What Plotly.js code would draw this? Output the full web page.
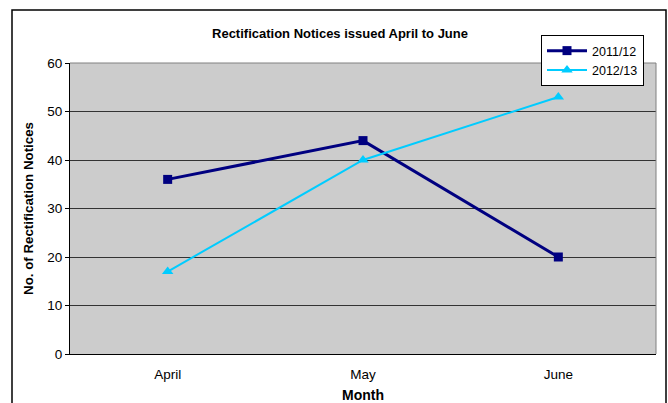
<!DOCTYPE html>
<html><head><meta charset="utf-8">
<script src="https://cdn.plot.ly/plotly-3.0.1.min.js"></script>
<style>html,body{margin:0;padding:0;background:#fff}</style>
</head><body>
<div id="chart" style="width:668px;height:403px"></div>
<script>
const months = ["April", "May", "June"];
const series2011 = [36, 44, 20];
const series2012 = [17, 40, 53];
const yTicks = [0, 10, 20, 30, 40, 50, 60];

const L = 70, R = 12, T = 63, B = 49, W = 668, H = 403;
const pw = W - L - R, ph = H - T - B;
const px = x => (x - L) / pw;
const py = y => (H - B - y) / ph;

const traces = [
  {x: months, y: series2011, name: "2011/12", type: "scatter", mode: "lines+markers",
   line: {color: "#000080", width: 3}, marker: {symbol: "square", size: 9, color: "#000080"}},
  {x: months, y: series2012, name: "2012/13", type: "scatter", mode: "lines+markers",
   line: {color: "#00CCFF", width: 2}, marker: {symbol: "triangle-up", size: 10, color: "#00CCFF"}}
];

const layout = {
  width: W, height: H,
  margin: {l: L, r: R, t: T, b: B},
  paper_bgcolor: "#ffffff",
  plot_bgcolor: "#CCCCCC",
  font: {family: "Liberation Sans, Arial, sans-serif", size: 13, color: "#000"},
  title: {text: "<b>Rectification Notices issued April to June</b>", font: {size: 13},
          x: 340 / W, xanchor: "center", y: 1 - 33 / H, yanchor: "middle"},
  showlegend: true,
  legend: {x: px(541), xanchor: "left", y: py(35), yanchor: "top",
           bgcolor: "#ffffff", bordercolor: "#000", borderwidth: 1,
           font: {size: 12.5}, tracegroupgap: 0, itemwidth: 40},
  xaxis: {type: "category", range: [-0.5, 2.5], showgrid: false,
          showline: true, linecolor: "#000", linewidth: 1,
          ticks: "outside", ticklen: 8, tickcolor: "rgba(0,0,0,0)", tickfont: {size: 13.5},
          title: {text: "<b>Month</b>", font: {size: 14}, standoff: 13}},
  yaxis: {range: [0, 60], tickvals: yTicks, showgrid: true, gridcolor: "#333333", gridwidth: 1,
          showline: true, linecolor: "#000", linewidth: 1, zeroline: false,
          ticks: "outside", ticklen: 4, tickcolor: "#000", tickfont: {size: 13.5},
          title: {text: "<b>No. of Rectification Notices</b>", font: {size: 13.3}, standoff: 10}},
  shapes: [
    {type: "line", xref: "paper", yref: "paper", x0: 0, x1: 1, y0: 1, y1: 1,
     line: {color: "#808080", width: 1}},
    {type: "line", xref: "paper", yref: "paper", x0: 1, x1: 1, y0: 0, y1: 1,
     line: {color: "#808080", width: 1}},
    {type: "rect", xref: "paper", yref: "paper", x0: px(12), x1: px(666), y0: py(420), y1: py(10),
     line: {color: "#000", width: 1.5}, fillcolor: "rgba(0,0,0,0)", layer: "above"}
  ]
};

Plotly.newPlot("chart", traces, layout, {displayModeBar: false, staticPlot: true});
</script>
</body></html>
